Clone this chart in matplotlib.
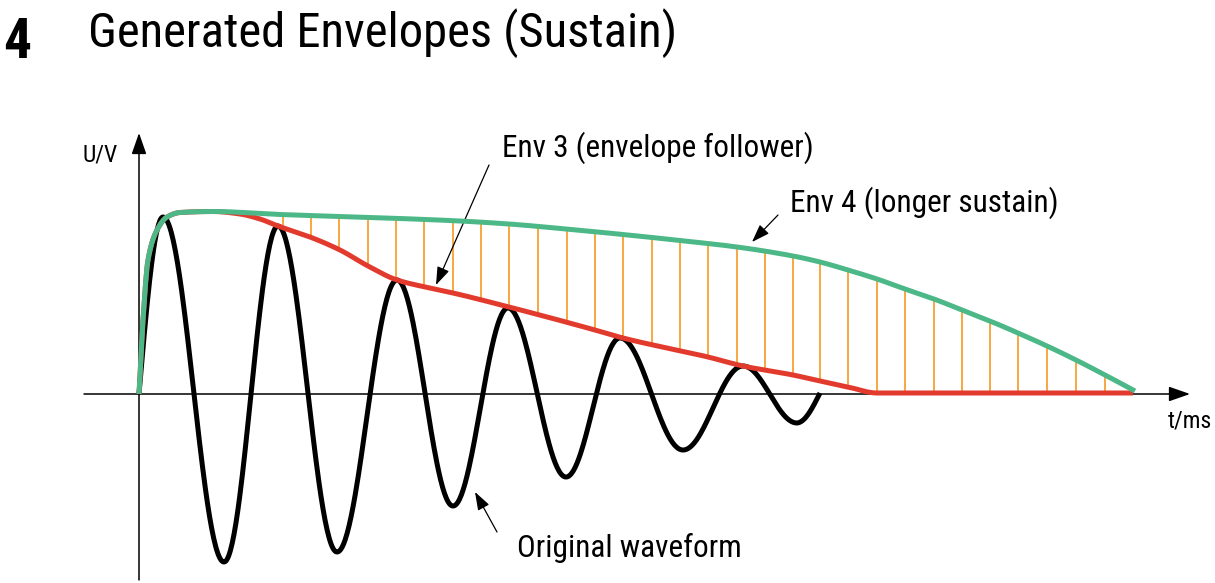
"""Generated envelopes (sustain) — damped waveform with two envelope curves."""

import matplotlib
matplotlib.use("Agg")
import matplotlib.pyplot as plt
import numpy as np
from matplotlib import font_manager

# --- data (t, U in drawing units; origin at the axis crossing) ---
# extrema of the original waveform
wave_t = [0, 24, 85, 139, 198, 258, 314, 369, 427, 481, 544, 604, 658, 681]
wave_u = [0, 177, -168, 168, -158, 114, -112, 86, -83, 56, -56, 28, -29, 1]

# Env 4 (longer sustain)
env4_t = [0, 4, 9, 18, 28, 41, 74, 141, 201, 261, 321, 370, 427, 484, 541,
          598, 654, 681, 709, 738, 766, 795, 823, 851, 879, 908, 937, 966, 996]
env4_u = [0, 74, 134, 164, 177, 181.5, 182.5, 179.5, 177.5, 175.5, 173, 170,
          165, 159.5, 153.5, 147, 138, 132, 124, 115, 105, 95, 84, 73, 61,
          48, 34, 19, 3]

# Env 3 (envelope follower)
env3_t = [0, 4, 9, 18, 28, 41, 74, 101, 121, 139, 171, 201, 229, 258, 286,
          314, 370, 456, 484, 569, 604, 654, 681, 709, 738, 994]
env3_u = [0, 74, 134, 164, 177, 181.5, 182.5, 180, 175, 168, 157, 144, 128,
          114, 107, 101, 87, 64, 56, 37, 28, 19, 13, 7, 1, 1]

# positions of the fill strokes between the envelopes
hatch_t = [144, 172, 200, 229, 257, 285, 314, 342, 370, 399, 428, 456, 484,
           513, 541, 569, 598, 626, 654, 681, 709, 738, 766, 795, 823, 851,
           879, 908, 937, 966]

TITLE_NUM = "4"
TITLE = "Generated Envelopes (Sustain)"
LABEL_ENV3 = "Env 3 (envelope follower)"
LABEL_ENV4 = "Env 4 (longer sustain)"
LABEL_WAVE = "Original waveform"

GREEN = "#4DB887"
RED = "#E23B2E"
ORANGE = "#F6A032"


def pick_font(candidates):
    names = {f.name for f in font_manager.fontManager.ttflist}
    for c in candidates:
        if c in names:
            return c
    return "DejaVu Sans"


FONT = pick_font(["Liberation Sans Narrow", "DejaVu Sans Condensed",
                  "Roboto Condensed", "Open Sans Condensed", "Roboto"])
plt.rcParams["font.family"] = [FONT, "DejaVu Sans"]


def pchip(x, y, xq):
    """Monotone cubic through the read points (shape-preserving)."""
    x = np.asarray(x, float)
    y = np.asarray(y, float)
    h = np.diff(x)
    d = np.diff(y) / h
    m = np.zeros_like(y)
    m[0], m[-1] = d[0], d[-1]
    for k in range(1, len(x) - 1):
        if d[k - 1] * d[k] > 0:
            w1 = 2 * h[k] + h[k - 1]
            w2 = h[k] + 2 * h[k - 1]
            m[k] = (w1 + w2) / (w1 / d[k - 1] + w2 / d[k])
    xq = np.asarray(xq, float)
    i = np.clip(np.searchsorted(x, xq) - 1, 0, len(x) - 2)
    s = (xq - x[i]) / h[i]
    h00 = 2 * s**3 - 3 * s**2 + 1
    h10 = s**3 - 2 * s**2 + s
    h01 = -2 * s**3 + 3 * s**2
    h11 = s**3 - s**2
    return h00 * y[i] + h10 * h[i] * m[i] + h01 * y[i + 1] + h11 * h[i] * m[i + 1]


def wave_curve(ts, us, n=60):
    """Half-cosine segments between successive extrema."""
    xs, ys = [], []
    for k in range(len(ts) - 1):
        t0, t1, u0, u1 = ts[k], ts[k + 1], us[k], us[k + 1]
        s = np.linspace(0, 1, n)
        if k == 0:  # rise from zero to the first peak
            yy = u1 * np.sin(s * np.pi / 2)
        elif k == len(ts) - 2:  # last quarter back to zero
            yy = u0 * np.cos(s * np.pi / 2) + u1 * np.sin(s * np.pi / 2)
        else:
            yy = (u0 + u1) / 2 + (u0 - u1) / 2 * np.cos(np.pi * s)
        xs.append(t0 + s * (t1 - t0))
        ys.append(yy)
    return np.concatenate(xs), np.concatenate(ys)


fig = plt.figure(figsize=(12.15, 5.83), dpi=100)
ax = fig.add_axes([0, 0, 1, 1])
ax.set_xlim(-139, 1076)
ax.set_ylim(-189, 394)
ax.axis("off")

# axes with arrow heads
arrow_kw = dict(arrowstyle="-|>,head_length=1.0,head_width=0.35",
                mutation_scale=13, color="black", lw=1.1, shrinkA=0, shrinkB=0)
ax.annotate("", xy=(0, 261), xytext=(0, -186), arrowprops=arrow_kw)
ax.annotate("", xy=(1051, 0), xytext=(-55, 0), arrowprops=arrow_kw)

# envelope curves
t4 = np.linspace(env4_t[0], env4_t[-1], 1500)
u4 = pchip(env4_t, env4_u, t4)
t3 = np.linspace(env3_t[0], env3_t[-1], 1500)
u3 = pchip(env3_t, env3_u, t3)

# orange strokes between Env 3 and Env 4
h_low = pchip(env3_t, env3_u, hatch_t)
h_high = pchip(env4_t, env4_u, hatch_t)
ax.vlines(hatch_t, h_low, h_high, color=ORANGE, lw=1.3, zorder=2)

# original waveform
wt, wu = wave_curve(wave_t, wave_u)
ax.plot(wt, wu, color="black", lw=3.6, solid_capstyle="butt", zorder=3)

ax.plot(t3, u3, color=RED, lw=3.6, solid_capstyle="butt", zorder=4)
ax.plot(t4, u4, color=GREEN, lw=3.6, solid_capstyle="butt", zorder=5)

# axis labels
ax.text(-56, 239, "U/V", fontsize=17, ha="left", va="center")
ax.text(1029, -27, "t/ms", fontsize=17, ha="left", va="center")

# annotations
note_kw = dict(arrowstyle="-|>,head_length=1.0,head_width=0.35",
               mutation_scale=11, color="black", lw=0.9, shrinkA=0, shrinkB=0)
ax.text(363, 237, LABEL_ENV3, fontsize=22.5, ha="left", va="baseline")
ax.annotate("", xy=(297, 109), xytext=(350, 229), arrowprops=note_kw)
ax.text(651, 182, LABEL_ENV4, fontsize=22.5, ha="left", va="baseline")
ax.annotate("", xy=(613, 152), xytext=(639, 179), arrowprops=note_kw)
ax.text(378, -163, LABEL_WAVE, fontsize=22.5, ha="left", va="baseline")
ax.annotate("", xy=(336, -98), xytext=(358, -138), arrowprops=note_kw)

# title
ax.text(-136, 336, TITLE_NUM, fontsize=40, fontweight="bold",
        ha="left", va="baseline")
ax.text(-51, 347, TITLE, fontsize=35, ha="left", va="baseline")

fig.savefig("out.png", dpi=100)
